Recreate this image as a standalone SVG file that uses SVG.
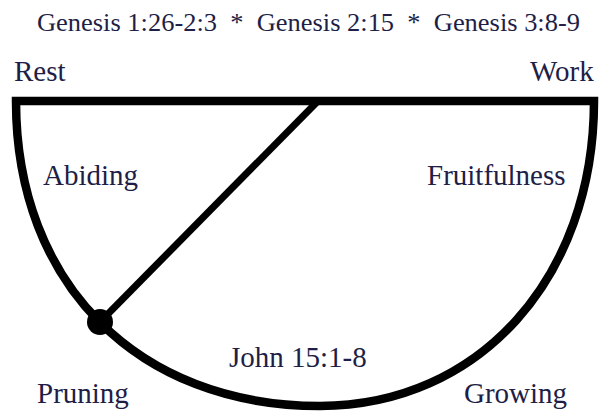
<svg xmlns="http://www.w3.org/2000/svg" width="599" height="414" viewBox="0 0 599 414">
<style>
  text { fill: #1e1e46; font-family: "Liberation Serif", "DejaVu Serif", "Noto Serif", "Tinos", "FreeSerif", "Nimbus Roman", "Times New Roman", Times, serif; }
  .lbl { font-size: 29px; }
  .title { font-size: 26px; white-space: pre; }
  .stroke { fill: none; stroke: #000; stroke-width: 8.5; stroke-linejoin: miter; }
</style>
<rect width="599" height="414" fill="#fff"/>
<g id="title">
  <text class="title" x="37" y="31" textLength="543" lengthAdjust="spacingAndGlyphs" xml:space="preserve">Genesis 1:26-2:3  *  Genesis 2:15  *  Genesis 3:8-9</text>
</g>
<g id="bowl">
  <path class="stroke" d="M16,101 C16,284 138,406 320,406 C479,406 594,278 594,101 Z"/>
</g>
<g id="connectors">
  <line x1="100" y1="322" x2="318" y2="101" stroke="#000" stroke-width="7"/>
</g>
<g id="pivot">
  <circle cx="100" cy="322" r="13" fill="#000"/>
</g>
<g id="labels">
  <text class="lbl" x="14" y="81">Rest</text>
  <text class="lbl" x="530" y="81">Work</text>
  <text class="lbl" x="43" y="185">Abiding</text>
  <text class="lbl" x="427" y="185">Fruitfulness</text>
  <text class="lbl" x="229" y="367">John 15:1-8</text>
  <text class="lbl" x="37" y="403">Pruning</text>
  <text class="lbl" x="464" y="403">Growing</text>
</g>
</svg>
